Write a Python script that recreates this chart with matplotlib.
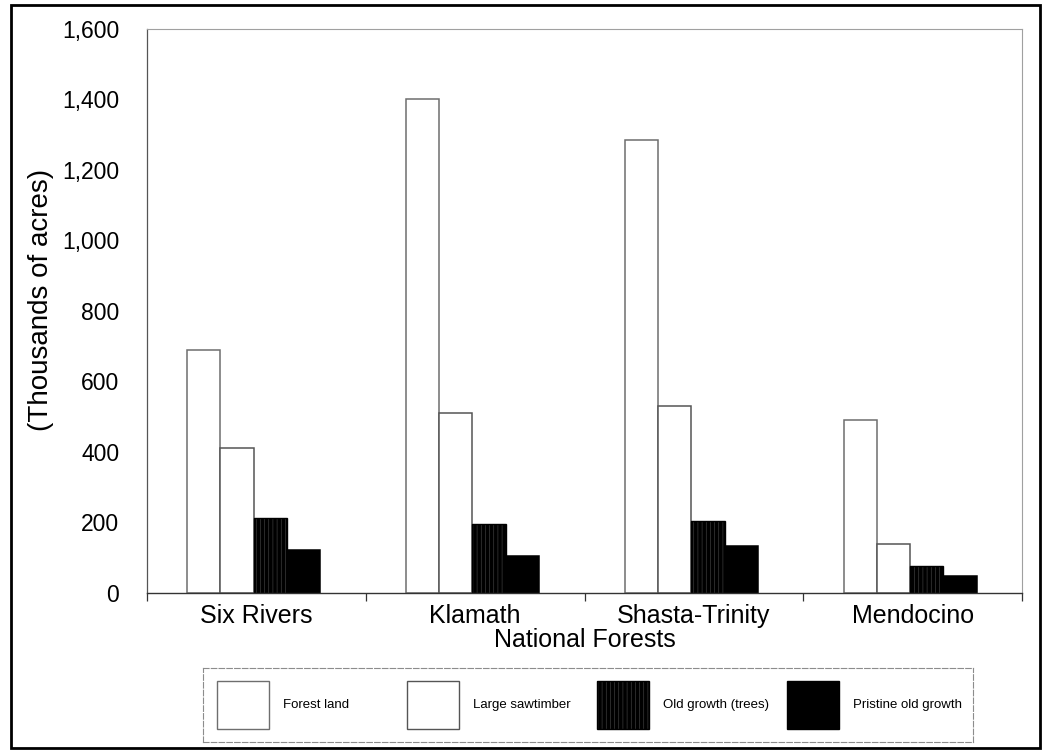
import numpy as np
import matplotlib
matplotlib.use("Agg")
import matplotlib.pyplot as plt
from matplotlib.patches import Rectangle

plt.rcParams['font.family'] = ['Liberation Sans', 'DejaVu Sans']
plt.rcParams['hatch.linewidth'] = 0.4

# data (thousands of acres)
forests = ['Six Rivers', 'Klamath', 'Shasta-Trinity', 'Mendocino']
series = ['Forest land', 'Large sawtimber', 'Old growth (trees)', 'Pristine old growth']
forest_land = [690, 1400, 1285, 490]
large_sawtimber = [410, 510, 530, 140]
old_growth = [213, 195, 205, 76]
pristine = [123, 105, 134, 48]
yticks = [0, 200, 400, 600, 800, 1000, 1200, 1400, 1600]

values = [forest_land, large_sawtimber, old_growth, pristine]
styles = [
    dict(facecolor='white', edgecolor='#6e6e6e', hatch=None),
    dict(facecolor='white', edgecolor='#555555', hatch=None),
    dict(facecolor='black', edgecolor='#8a8a8a', hatch='||||'),
    dict(facecolor='black', edgecolor='black', hatch=None),
]
HATCH_COLOR = '#4a4a4a'

fig = plt.figure(figsize=(10.46, 7.51), dpi=100)
ax = fig.add_axes([0.1405, 0.2104, 0.8366, 0.751])

x = np.arange(len(forests))
width = 0.152
for i, (vals, st) in enumerate(zip(values, styles)):
    pos = x + (i - 1.5) * width - 0.012
    if st['hatch']:
        ax.bar(pos, vals, width, color='black', edgecolor=HATCH_COLOR,
               hatch=st['hatch'], linewidth=0)
        ax.bar(pos, vals, width, facecolor='none', edgecolor='black', linewidth=1)
    else:
        ax.bar(pos, vals, width, facecolor=st['facecolor'],
               edgecolor=st['edgecolor'], linewidth=1.1)

ax.set_xlim(-0.5, len(forests) - 0.5)
ax.set_ylim(0, 1600)
ax.set_yticks(yticks)
ax.set_yticklabels([f'{v:,}' for v in yticks], fontsize=16.5)
ax.tick_params(axis='y', length=0, pad=20)

ax.set_xticks(x)
ax.set_xticklabels(forests, fontsize=18)
ax.set_xticks(np.arange(len(forests) + 1) - 0.5, minor=True)
ax.tick_params(axis='x', which='major', length=0, pad=8)
ax.tick_params(axis='x', which='minor', length=6, width=0.9, color='#333333', direction='out')

ax.set_xlabel('National Forests', fontsize=18, labelpad=0)
ax.set_ylabel('(Thousands of acres)', fontsize=20)
ax.yaxis.set_label_coords(-0.106, 0.52)

for side in ['top', 'right']:
    ax.spines[side].set_color('#a0a0a0')
    ax.spines[side].set_linewidth(0.8)
ax.spines['left'].set_color('#555555')
ax.spines['left'].set_linewidth(0.9)
ax.spines['bottom'].set_color('#333333')
ax.spines['bottom'].set_linewidth(1.0)

# legend box drawn as its own small axes
lax = fig.add_axes([0.194, 0.012, 0.736, 0.0985])
lax.set_xlim(0, 770)
lax.set_ylim(0, 74)
lax.set_xticks([])
lax.set_yticks([])
for sp in lax.spines.values():
    sp.set_color('#8c8c8c')
    sp.set_linewidth(0.8)
    sp.set_linestyle((0, (5, 2)))
for i, (name, st) in enumerate(zip(series, styles)):
    x0 = 14 + i * 190
    if st['hatch']:
        lax.add_patch(Rectangle((x0, 13), 52, 48, facecolor='black',
                                edgecolor=HATCH_COLOR, hatch=st['hatch'], linewidth=0))
        lax.add_patch(Rectangle((x0, 13), 52, 48, facecolor='none',
                                edgecolor='black', linewidth=1))
    else:
        lax.add_patch(Rectangle((x0, 13), 52, 48, facecolor=st['facecolor'],
                                edgecolor=st['edgecolor'], linewidth=1))
    lax.text(x0 + 66, 37, name, fontsize=9.5, va='center', ha='left')

# scanned page border
fig.patches.append(Rectangle((0.0105, 0.004), 0.9837, 0.989, transform=fig.transFigure,
                             fill=False, edgecolor='black', linewidth=2))

fig.savefig('out.png', dpi=100)
